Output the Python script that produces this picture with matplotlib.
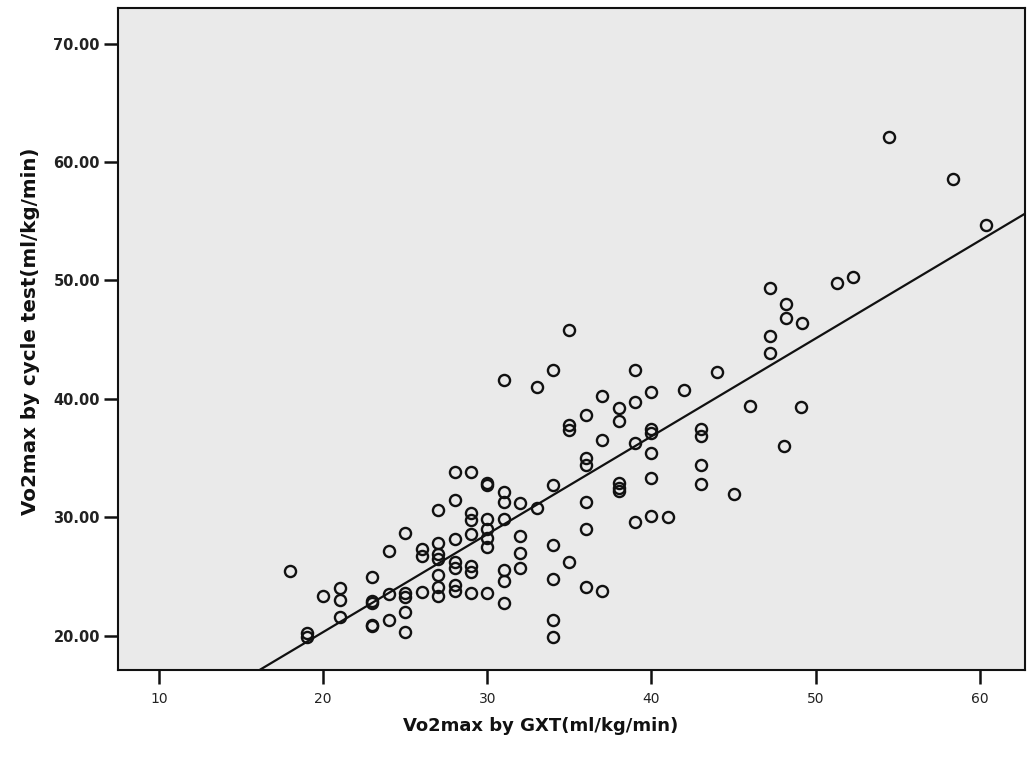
import numpy as np
import matplotlib.pyplot as plt

# VO2max by graded exercise test (x) against cycle test estimate (y), ml/kg/min
gxt = [18,
       19, 19,
       20,
       21, 21, 21,
       23, 23, 23, 23, 23,
       24, 24, 24,
       25, 25, 25, 25, 25,
       26, 26, 26,
       27, 27, 27, 27, 27, 27, 27,
       28, 28, 28, 28, 28, 28, 28,
       29, 29, 29, 29, 29, 29, 29,
       30, 30, 30, 30, 30, 30, 30,
       31, 31, 31, 31, 31, 31, 31,
       32, 32, 32, 32,
       33, 33,
       34, 34, 34, 34, 34, 34,
       35, 35, 35, 35,
       36, 36, 36, 36, 36, 36,
       37, 37, 37,
       38, 38, 38, 38, 38,
       39, 39, 39, 39,
       40, 40, 40, 40, 40, 40,
       41,
       42,
       43, 43, 43, 43,
       44,
       45,
       46,
       47.2, 47.2, 47.2,
       48.2, 48.2, 48.1,
       49.2, 49.1,
       51.3,
       52.3,
       54.5,
       58.4,
       60.4]

cycle = [25.5,
         20.25, 19.9,
         23.4,
         24.0, 23.0, 21.6,
         25.0, 22.9, 22.8, 20.9, 20.8,
         27.2, 23.5, 21.3,
         28.7, 23.6, 23.3, 22.0, 20.3,
         27.3, 26.75, 23.7,
         30.6, 27.8, 26.9, 26.5, 25.1, 24.1, 23.4,
         33.8, 31.5, 28.2, 26.2, 25.7, 24.3, 23.8,
         33.8, 30.4, 29.8, 28.6, 25.9, 25.4, 23.6,
         32.9, 32.7, 29.9, 29.0, 28.3, 27.5, 23.6,
         41.6, 32.1, 31.3, 29.9, 25.6, 24.6, 22.8,
         31.2, 28.4, 27.0, 25.7,
         41.0, 30.8,
         42.4, 32.7, 27.7, 24.8, 21.3, 19.9,
         45.8, 37.8, 37.4, 26.2,
         38.6, 35.0, 34.4, 31.3, 29.0, 24.1,
         40.25, 36.5, 23.8,
         39.2, 38.1, 32.9, 32.5, 32.2,
         42.4, 39.7, 36.3, 29.6,
         40.6, 37.5, 37.1, 35.4, 33.3, 30.1,
         30.0,
         40.75,
         37.5, 36.9, 34.4, 32.8,
         42.3,
         32.0,
         39.4,
         49.4, 45.3, 43.9,
         48.0, 46.8, 36.0,
         46.4, 39.3,
         49.8,
         50.3,
         62.1,
         58.6,
         54.7]

# linear fit line
FIT_INTERCEPT = 3.8
FIT_SLOPE = 0.826

X_TICKS = [10, 20, 30, 40, 50, 60]
Y_TICKS = [20, 30, 40, 50, 60, 70]
X_LIM = (7.5, 62.75)
Y_LIM = (17.1, 73.0)


def main() -> None:
    fig = plt.figure(figsize=(10.29, 7.59), dpi=100)
    ax = fig.add_axes([0.1147, 0.117, 0.8813, 0.8725])
    ax.set_facecolor("#eaeaea")

    ax.plot(gxt, cycle, linestyle="none", marker="o", markersize=8,
            markerfacecolor="none", markeredgecolor="#111111",
            markeredgewidth=1.7, zorder=3)

    xs = np.array(X_LIM)
    ax.plot(xs, FIT_INTERCEPT + FIT_SLOPE * xs, color="#111111",
            linewidth=1.6, zorder=2)

    ax.set_xlim(*X_LIM)
    ax.set_ylim(*Y_LIM)
    ax.set_xticks(X_TICKS)
    ax.set_yticks(Y_TICKS)
    ax.set_xticklabels([str(v) for v in X_TICKS], fontsize=10)
    ax.set_yticklabels([f"{v:.2f}" for v in Y_TICKS], fontsize=10.5,
                       fontweight="bold")
    ax.tick_params(axis="both", direction="out", length=10, width=1.8,
                   color="#111111", labelcolor="#222222")
    ax.tick_params(axis="x", pad=6)
    ax.tick_params(axis="y", pad=3)

    for sp in ax.spines.values():
        sp.set_linewidth(1.5)
        sp.set_color("#111111")

    ax.set_xlabel("Vo2max by GXT(ml/kg/min)", fontsize=13,
                  fontweight="bold", color="#111111")
    ax.set_ylabel("Vo2max by cycle test(ml/kg/min)", fontsize=14.3,
                  fontweight="bold", color="#111111")
    ax.xaxis.set_label_coords(0.466, -0.070)
    ax.yaxis.set_label_coords(-0.086, 0.512)

    fig.savefig("out.png", dpi=100, facecolor="white")


if __name__ == "__main__":
    main()
